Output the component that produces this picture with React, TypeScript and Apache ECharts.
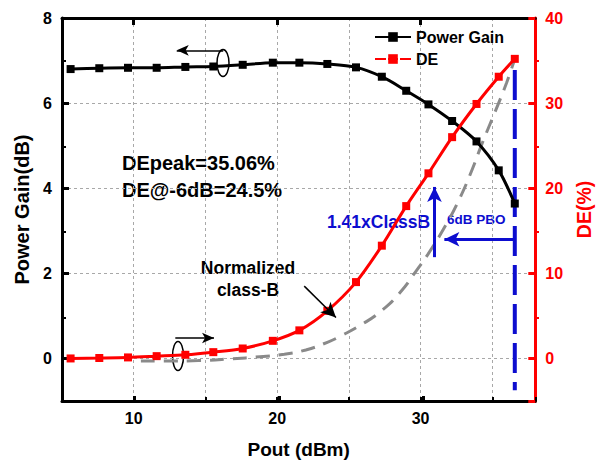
import React, { useEffect, useRef } from 'react';
import * as echarts from 'echarts';

// ---- data ----
const pout = [5.6, 7.6, 9.6, 11.6, 13.6, 15.55, 17.6, 19.7, 21.55, 23.5, 25.5, 27.3, 29.0, 30.55, 32.2, 33.9, 35.45, 36.57];
const powerGain = [6.8, 6.82, 6.83, 6.83, 6.85, 6.86, 6.9, 6.95, 6.95, 6.92, 6.84, 6.62, 6.29, 5.97, 5.58, 5.1, 4.42, 3.64];
const de = [0.0, 0.05, 0.12, 0.27, 0.43, 0.74, 1.17, 2.07, 3.3, 5.6, 8.97, 13.25, 17.9, 21.75, 26.0, 29.9, 33.1, 35.2];
const classBPout = [10.5, 12.5, 14.5, 16.8, 18.8, 20.5, 22.0, 23.5, 24.5, 25.8, 27.2, 28.6, 29.7, 30.5, 31.8, 32.7, 33.6, 34.3, 35.25, 36.0, 36.57];
const classBDE = [-0.3, -0.3, -0.25, -0.05, 0.2, 0.5, 1.0, 1.9, 2.7, 3.9, 5.5, 7.8, 10.3, 12.2, 15.8, 18.7, 22.2, 25.3, 29.2, 32.4, 35.2];
const xTickLabels = [10, 20, 30];
const gainMinorTicks = [1, 3, 5, 7];
const deMinorTicks = [5, 15, 25, 35];
const pboLine = [[36.57, 6.78], [36.57, -0.75]];

const FONT = 'Arial, "Liberation Sans", sans-serif';
const BLUE = '#0d0dcf';
const RED = '#ff0000';

const zip = (a: number[], b: number[]) => a.map((v, i) => [v, b[i]]);

const bold = (size: number, color = '#000') => ({ fontSize: size, fontWeight: 'bold', color, fontFamily: FONT });

const arrow = (from: number[], to: number[], color: string, width: number, size: number[]) => [
  { coord: from, symbol: 'none', lineStyle: { color, width, type: 'solid' }, itemStyle: { color } },
  { coord: to, symbol: 'arrow', symbolSize: size, itemStyle: { color } },
];

const option: any = {
  animation: false,
  textStyle: { fontFamily: FONT },
  grid: [
    { left: 62, right: 63, top: 18, bottom: 61 },
    { left: 62, right: 63, top: 18, bottom: 61 },
  ],
  legend: {
    orient: 'vertical',
    left: 369,
    top: 24,
    itemWidth: 36,
    itemHeight: 12,
    itemGap: 6,
    textStyle: bold(16),
    data: [
      { name: 'Power Gain' },
      { name: 'DE', lineStyle: { type: [11, 2, 10, 2, 11] } },
    ],
  },
  xAxis: [
    {
      type: 'value', gridIndex: 0, position: 'bottom', min: 5, max: 38, interval: 5,
      axisLine: { onZero: false, lineStyle: { color: '#000', width: 3 } },
      axisTick: { inside: true, length: 4, lineStyle: { color: '#000', width: 2 } },
      axisLabel: { ...bold(16), margin: 9, formatter: (v: number) => (xTickLabels.includes(v) ? String(v) : '') },
      splitLine: { show: true, lineStyle: { type: [3, 3], color: '#a8a8a8', width: 1 } },
      name: 'Pout (dBm)', nameLocation: 'middle', nameGap: 39,
      nameTextStyle: bold(19),
    },
    {
      type: 'value', gridIndex: 0, position: 'top', min: 5, max: 38, interval: 5,
      axisLine: { onZero: false, lineStyle: { color: '#000', width: 3 } },
      axisTick: { inside: true, length: 7, customValues: xTickLabels, lineStyle: { color: '#000', width: 3 } },
      axisLabel: { show: false },
      splitLine: { show: false },
    },
    {
      type: 'value', gridIndex: 1, position: 'bottom', min: 5, max: 38, interval: 5,
      axisLine: { show: false, onZero: false },
      axisTick: { inside: true, length: 7, customValues: xTickLabels, lineStyle: { color: '#000', width: 3 } },
      axisLabel: { show: false },
      splitLine: { show: false },
    },
  ],
  yAxis: [
    {
      type: 'value', gridIndex: 0, position: 'left', min: -1, max: 8, splitNumber: 5,
      axisLine: { show: true, onZero: false, lineStyle: { color: '#000', width: 3 } },
      axisTick: { show: true, inside: true, length: 7, lineStyle: { color: '#000', width: 3 } },
      axisLabel: { ...bold(16), margin: 10, formatter: (v: number) => (v < 0 ? '' : String(v)) },
      splitLine: { show: true, lineStyle: { type: [3, 3], color: '#a8a8a8', width: 1 } },
      name: 'Power Gain(dB)', nameLocation: 'middle', nameGap: 30,
      nameTextStyle: bold(20),
    },
    {
      type: 'value', gridIndex: 0, position: 'right', min: -5, max: 40, splitNumber: 5,
      axisLine: { show: true, onZero: false, lineStyle: { color: RED, width: 3 } },
      axisTick: { show: true, inside: true, length: 7, lineStyle: { color: RED, width: 3 } },
      axisLabel: { ...bold(16, RED), margin: 10, formatter: (v: number) => (v < 0 ? '' : String(v)) },
      splitLine: { show: false },
      name: 'DE(%)', nameLocation: 'middle', nameGap: 38,
      nameTextStyle: bold(19.5, RED),
    },
    {
      type: 'value', gridIndex: 1, position: 'left', min: -1, max: 8,
      axisLine: { show: false, onZero: false },
      axisTick: { show: true, inside: true, length: 4, customValues: gainMinorTicks, lineStyle: { color: '#000', width: 2 } },
      axisLabel: { show: false },
      splitLine: { show: false },
    },
    {
      type: 'value', gridIndex: 1, position: 'right', min: -5, max: 40,
      axisLine: { show: false, onZero: false },
      axisTick: { show: true, inside: true, length: 4, customValues: deMinorTicks, lineStyle: { color: RED, width: 2 } },
      axisLabel: { show: false },
      splitLine: { show: false },
    },
  ],
  series: [
    {
      name: 'Normalized class-B', type: 'line', xAxisIndex: 0, yAxisIndex: 1,
      data: zip(classBPout, classBDE), smooth: true, symbol: 'none', silent: true,
      lineStyle: { color: '#8a8a8a', width: 3, type: [14, 9] }, z: 1,
    },
    {
      name: 'Power Gain', type: 'line', xAxisIndex: 0, yAxisIndex: 0,
      data: zip(pout, powerGain), smooth: 0.3, symbol: 'rect', symbolSize: 8,
      itemStyle: { color: '#000' }, lineStyle: { color: '#000', width: 3 }, z: 3,
    },
    {
      name: 'DE', type: 'line', xAxisIndex: 0, yAxisIndex: 1,
      data: zip(pout, de), smooth: 0.3, symbol: 'rect', symbolSize: 8,
      itemStyle: { color: RED }, lineStyle: { color: RED, width: 3 }, z: 4,
    },
    {
      name: 'PBO', type: 'line', xAxisIndex: 0, yAxisIndex: 0,
      data: pboLine, symbol: 'none', silent: true,
      lineStyle: { color: BLUE, width: 4, type: [30, 9] }, z: 2,
      markLine: {
        silent: true,
        animation: false,
        label: { show: false },
        emphasis: { disabled: true },
        symbol: ['none', 'arrow'],
        data: [
          arrow([36.57, 2.8], [31.66, 2.8], BLUE, 3, [11, 15]),
          arrow([30.97, 2.38], [30.97, 4.03], BLUE, 3, [11, 15]),
          arrow([16.24, 7.24], [13.0, 7.24], '#000', 1.5, [8, 12]),
          arrow([12.9, 0.48], [15.6, 0.48], '#000', 1.5, [8, 12]),
          arrow([21.89, 1.7], [24.1, 0.96], '#000', 1.5, [11, 15]),
        ],
      },
    },
  ],
  graphic: [
    { type: 'ellipse', shape: { cx: 223, cy: 63, rx: 6, ry: 13.5 }, style: { fill: 'none', stroke: '#000', lineWidth: 1.5 } },
    { type: 'ellipse', shape: { cx: 178, cy: 356, rx: 5.5, ry: 14.5 }, style: { fill: 'none', stroke: '#000', lineWidth: 1.5 } },
    { type: 'text', x: 122, y: 163, style: { text: 'DEpeak=35.06%', fill: '#000', font: `bold 20px ${FONT}`, align: 'left', verticalAlign: 'middle' } },
    { type: 'text', x: 122, y: 190, style: { text: 'DE@-6dB=24.5%', fill: '#000', font: `bold 20px ${FONT}`, align: 'left', verticalAlign: 'middle' } },
    { type: 'text', x: 248, y: 268, style: { text: 'Normalized', fill: '#000', font: `bold 17.5px ${FONT}`, align: 'center', verticalAlign: 'middle' } },
    { type: 'text', x: 248, y: 290, style: { text: 'class-B', fill: '#000', font: `bold 17.5px ${FONT}`, align: 'center', verticalAlign: 'middle' } },
    { type: 'text', x: 327, y: 222, style: { text: '1.41xClassB', fill: BLUE, font: `bold 17.5px ${FONT}`, align: 'left', verticalAlign: 'middle' } },
    { type: 'text', x: 447, y: 219, style: { text: '6dB PBO', fill: BLUE, font: `bold 13.5px ${FONT}`, align: 'left', verticalAlign: 'middle' } },
  ],
};

export default function App() {
  const ref = useRef<HTMLDivElement>(null);
  useEffect(() => {
    const chart = echarts.init(ref.current!, null, { renderer: 'svg' });
    chart.setOption(option);
    return () => chart.dispose();
  }, []);
  return <div ref={ref} style={{ position: 'fixed', left: 0, top: 0, width: 602, height: 464, background: '#fff' }} />;
}
